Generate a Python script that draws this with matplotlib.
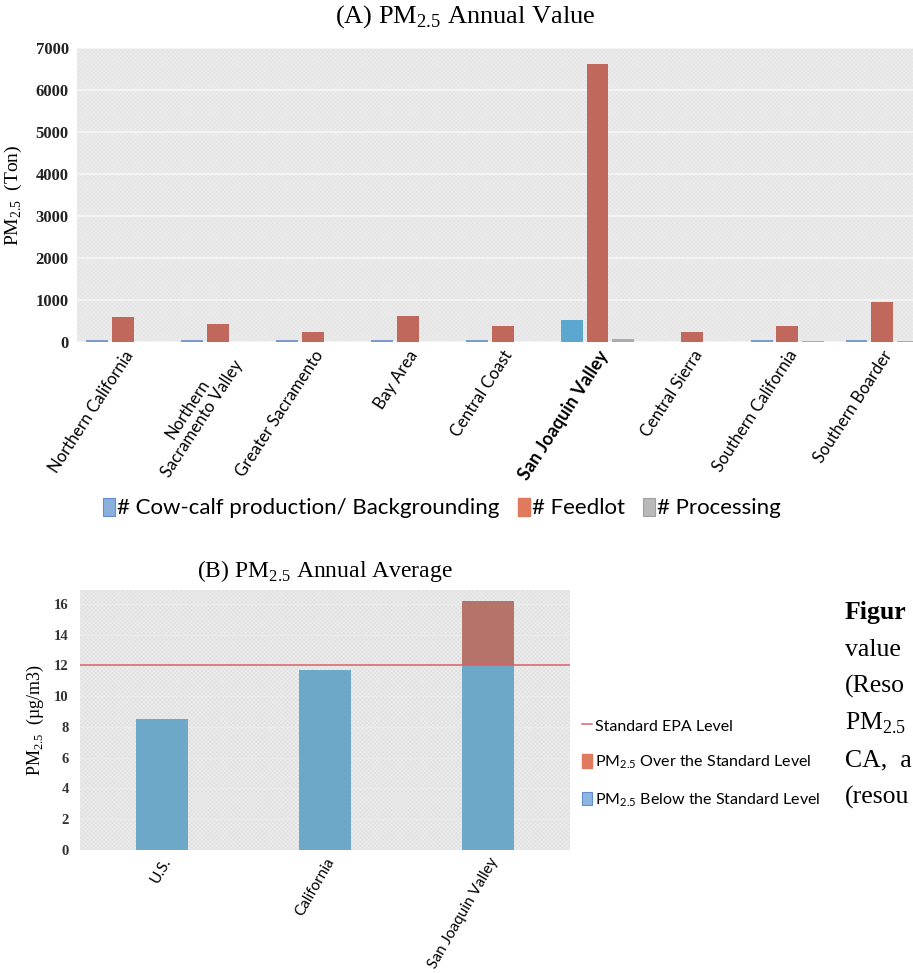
import matplotlib
matplotlib.use("Agg")
import matplotlib.pyplot as plt
import numpy as np
from matplotlib.patches import Patch, Rectangle
from matplotlib.lines import Line2D

# Panel A: annual PM2.5 by region (tons)
regions = ["Northern California", "Northern\nSacramento Valley", "Greater Sacramento",
           "Bay Area", "Central Coast", "San Joaquin Valley", "Central Sierra",
           "Southern California", "Southern Boarder"]
cow_calf = [40, 40, 40, 40, 40, 520, 0, 40, 40]
feedlot = [600, 420, 250, 620, 380, 6630, 230, 380, 960]
processing = [0, 0, 0, 0, 0, 60, 0, 20, 20]

# Panel B: annual average concentration (ug/m3)
places = ["U.S.", "California", "San Joaquin Valley"]
annual_avg = [8.5, 11.7, 16.2]
epa_level = 12.0

caption_lines = ["value", "(Reso", r"PM$_{\mathregular{2.5}}$", "CA,  a", "(resou"]

SERIF = ["Liberation Serif", "DejaVu Serif"]
SANS = ["Lato", "DejaVu Sans"]
PM = r"PM$_{\mathregular{2.5}}$"

W, H = 913, 973
fig = plt.figure(figsize=(W / 100, H / 100), dpi=100)
plt.rcParams["hatch.linewidth"] = 0.6


def px_axes(left, top, right, bottom):
    return fig.add_axes([left / W, 1 - bottom / H, (right - left) / W, (bottom - top) / H])


def textured_bg(ax, face, hatch_color):
    ax.set_facecolor(face)
    ax.add_patch(Rectangle((0, 0), 1, 1, transform=ax.transAxes, facecolor="none",
                           edgecolor=hatch_color, hatch="xxxxxxxx", lw=0, zorder=0))
    for s in ax.spines.values():
        s.set_visible(False)


# ---- Panel A ----
axA = px_axes(77, 48, 913, 342)
textured_bg(axA, "#ececec", "#e5e5e5")
x = np.arange(len(regions))
bw = 0.23
step = 0.27
axA.bar(x - step, cow_calf, bw, color="#7a9ccc", zorder=3)
axA.bar(x[5] - step, cow_calf[5], bw, color="#5ba7cf", zorder=4)
axA.bar(x, feedlot, bw, color="#c0685b", zorder=3)
axA.bar(x + step, processing, bw, color="#a9acb3", zorder=3)
axA.set_xlim(-0.485, 8.325)
axA.set_ylim(0, 7000)
axA.set_yticks(range(0, 7001, 1000))
axA.grid(axis="y", color="#f6f6f6", lw=1.2, zorder=1)
axA.set_axisbelow(True)
axA.tick_params(axis="both", length=0)
axA.tick_params(axis="y", pad=6)
for lab in axA.get_yticklabels():
    lab.set_family(SERIF)
    lab.set_fontweight("bold")
    lab.set_fontsize(12)
    lab.set_color("#222222")
axA.set_xticks(x)
axA.set_xticklabels(regions, rotation=57, ha="right", rotation_mode="anchor",
                    family=SANS, fontsize=12, linespacing=1.1,
                    multialignment="center")
axA.get_xticklabels()[5].set_fontweight("bold")
axA.get_xticklabels()[5].set_fontsize(13)
axA.tick_params(axis="x", pad=4)
axA.set_ylabel(PM + "  (Ton)", family=SERIF, fontsize=14, labelpad=8)
fig.text(465 / W, 1 - 17 / H, "(A) " + PM + " Annual Value", family=SERIF,
         fontsize=19, ha="center", va="center")

legA = [Patch(facecolor="#8bb0de", edgecolor="#5e8fcf", lw=0.8),
        Patch(facecolor="#e07a5f", edgecolor="#e07a5f"),
        Patch(facecolor="#b9b9b9", edgecolor="#a0a0a0", lw=0.8)]
fig.legend(legA, ["# Cow-calf production/ Backgrounding", "# Feedlot", "# Processing"],
           loc="center", bbox_to_anchor=(442 / W, 1 - 508 / H), ncol=3, frameon=False,
           prop={"family": SANS, "size": 16}, handlelength=0.55, handleheight=0.9,
           handletextpad=0.1, columnspacing=0.8)

# ---- Panel B ----
axB = px_axes(80, 590, 570, 850)
textured_bg(axB, "#e0e0e0", "#ececec")
xb = np.arange(len(places))
below = [min(v, epa_level) for v in annual_avg]
over = [max(v - epa_level, 0) for v in annual_avg]
axB.bar(xb, below, 0.32, color="#6ea8c8", zorder=3)
axB.bar(xb, over, 0.32, bottom=below, color="#b5736a", zorder=3)
axB.axhline(epa_level, color="#d9606a", lw=1.1, zorder=4)
axB.set_xlim(-0.5, 2.5)
axB.set_ylim(0, 16.9)
axB.set_yticks(range(0, 17, 2))
axB.grid(axis="y", color="#eaeaea", lw=1, zorder=1)
axB.set_axisbelow(True)
axB.tick_params(axis="both", length=0)
axB.tick_params(axis="y", pad=8)
for lab in axB.get_yticklabels():
    lab.set_family(SERIF)
    lab.set_fontweight("bold")
    lab.set_fontsize(10.5)
    lab.set_color("#333333")
axB.set_xticks(xb)
axB.set_xticklabels(places, rotation=60, ha="right", rotation_mode="anchor",
                    family=SANS, fontsize=11)
axB.tick_params(axis="x", pad=4)
axB.set_ylabel(PM + "  (µg/m3)", family=SERIF, fontsize=13, labelpad=6)
fig.text(325 / W, 1 - 571 / H, "(B) " + PM + " Annual Average", family=SERIF,
         fontsize=17, ha="center", va="center")

legB = [Line2D([], [], color="#d9606a", lw=1.1),
        Patch(facecolor="#e07a5f", edgecolor="#e07a5f"),
        Patch(facecolor="#8bb6e3", edgecolor="#5e8fcf", lw=0.8)]
fig.legend(legB, ["Standard EPA Level", PM + " Over the Standard Level",
                  PM + " Below the Standard Level"],
           loc="upper left", bbox_to_anchor=(576 / W, 1 - 712 / H), frameon=False,
           prop={"family": SANS, "size": 11.5}, handlelength=0.6, handleheight=0.9,
           handletextpad=0.2, labelspacing=1.25, borderaxespad=0)

# Caption column along the right edge
fig.text(845 / W, 1 - 613 / H, "Figur", family=SERIF, fontsize=18.5,
         fontweight="bold", va="center")
for i, line in enumerate(caption_lines):
    fig.text(845 / W, 1 - (650 + i * 36.8) / H, line, family=SERIF, fontsize=18.5,
             va="center")

fig.savefig("out.png", dpi=100, facecolor="white")
